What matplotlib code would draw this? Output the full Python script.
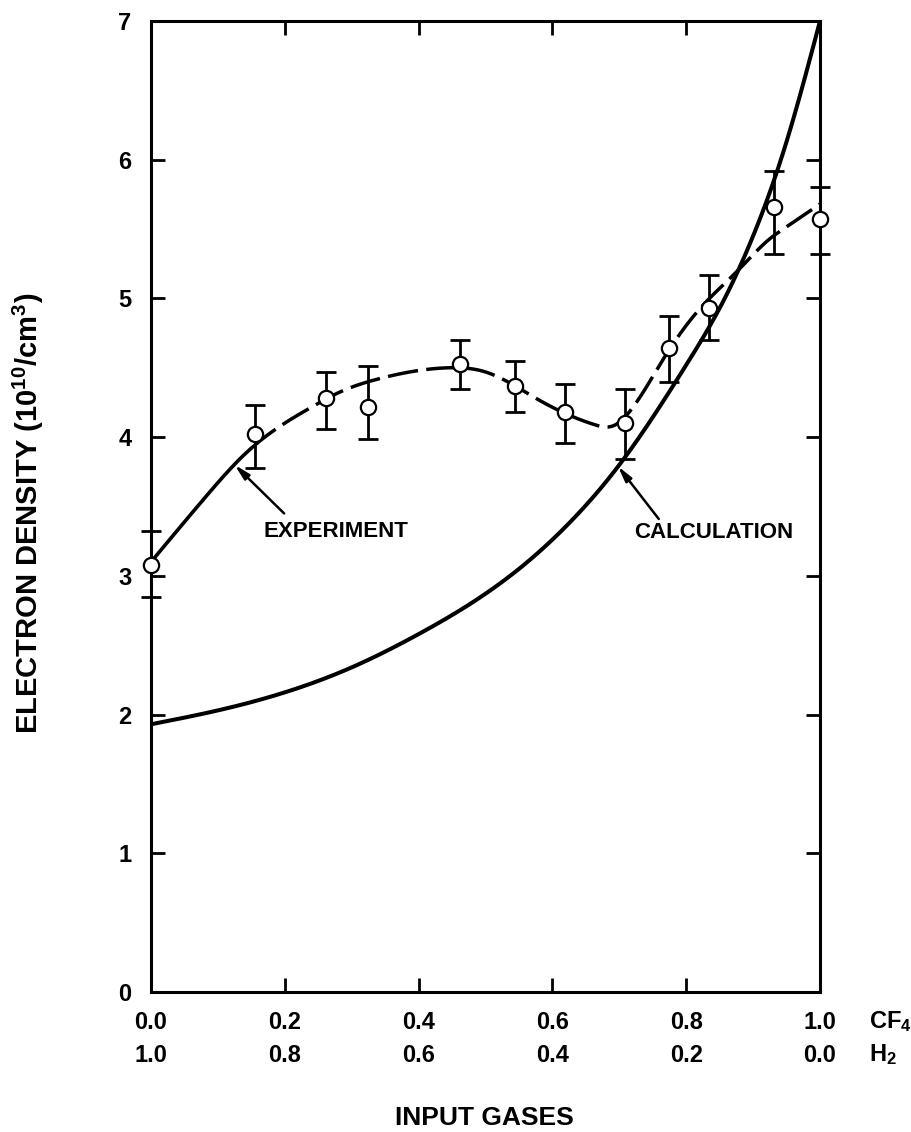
import numpy as np
import matplotlib
matplotlib.use("Agg")
import matplotlib.pyplot as plt

plt.rcParams['font.family'] = ['Liberation Sans', 'DejaVu Sans']
plt.rcParams['font.weight'] = 'bold'
plt.rcParams['mathtext.fontset'] = 'custom'
plt.rcParams['mathtext.rm'] = 'Liberation Sans:bold'
plt.rcParams['mathtext.default'] = 'rm'
plt.rcParams['lines.scale_dashes'] = False

# Measured electron density vs CF4 fraction (with error bars)
cf4_fraction = [0.0, 0.155, 0.262, 0.325, 0.462, 0.544, 0.619, 0.709, 0.775, 0.834, 0.931, 1.0]
density = [3.08, 4.02, 4.28, 4.22, 4.53, 4.37, 4.18, 4.10, 4.64, 4.93, 5.66, 5.57]
density_hi = [3.32, 4.23, 4.47, 4.51, 4.70, 4.55, 4.38, 4.35, 4.87, 5.17, 5.92, 5.80]
density_lo = [2.85, 3.78, 4.06, 3.99, 4.35, 4.18, 3.96, 3.84, 4.40, 4.70, 5.32, 5.32]

# Hand-drawn trend through the experimental points
trend_x = [0.0, 0.08, 0.143, 0.17, 0.245, 0.28, 0.34, 0.444, 0.50, 0.579,
           0.663, 0.69, 0.718, 0.768, 0.823, 0.877, 0.925, 0.945, 1.0]
trend_y = [3.10, 3.56, 3.89, 4.00, 4.23, 4.32, 4.42, 4.50, 4.47, 4.27,
           4.09, 4.08, 4.20, 4.58, 4.94, 5.20, 5.43, 5.50, 5.68]

# Calculated electron density
calc_x = [0.0, 0.1, 0.2, 0.3, 0.4, 0.55, 0.625, 0.7, 0.8, 0.85, 0.9, 0.95, 1.0]
calc_y = [1.93, 2.03, 2.16, 2.34, 2.58, 3.05, 3.38, 3.80, 4.52, 4.93, 5.45, 6.13, 7.0]

# Axis tick labels
cf4_ticks = [0.0, 0.2, 0.4, 0.6, 0.8, 1.0]
cf4_labels = ["0.0", "0.2", "0.4", "0.6", "0.8", "1.0"]
h2_labels = ["1.0", "0.8", "0.6", "0.4", "0.2", "0.0"]
y_ticks = [0, 1, 2, 3, 4, 5, 6, 7]


def natural_spline(x, y, n=600):
    x = np.asarray(x, float)
    y = np.asarray(y, float)
    h = np.diff(x)
    m = len(x)
    A = np.zeros((m, m))
    b = np.zeros(m)
    A[0, 0] = A[-1, -1] = 1.0
    for i in range(1, m - 1):
        A[i, i - 1] = h[i - 1]
        A[i, i] = 2 * (h[i - 1] + h[i])
        A[i, i + 1] = h[i]
        b[i] = 6 * ((y[i + 1] - y[i]) / h[i] - (y[i] - y[i - 1]) / h[i - 1])
    M = np.linalg.solve(A, b)
    t = np.linspace(x[0], x[-1], n)
    idx = np.clip(np.searchsorted(x, t) - 1, 0, m - 2)
    x0, x1 = x[idx], x[idx + 1]
    hh = x1 - x0
    s = (M[idx] * (x1 - t) ** 3 / (6 * hh) + M[idx + 1] * (t - x0) ** 3 / (6 * hh)
         + (y[idx] / hh - M[idx] * hh / 6) * (x1 - t)
         + (y[idx + 1] / hh - M[idx + 1] * hh / 6) * (t - x0))
    return t, s


fig = plt.figure(figsize=(9.12, 11.32), dpi=100)
ax = fig.add_axes([151 / 912, 1 - 992 / 1132, 669 / 912, 971 / 1132])
ax.set_xlim(0, 1.0)
ax.set_ylim(0, 7)

# calculation curve
cx, cy = natural_spline(calc_x, calc_y)
ax.plot(cx, cy, color='black', lw=2.9, solid_capstyle='butt', zorder=2, clip_on=False)

# experimental trend: solid near the start, dashed afterwards
tx, ty = natural_spline(trend_x, trend_y)
solid = tx <= 0.15
ax.plot(tx[solid], ty[solid], color='black', lw=2.6, zorder=2)
ax.plot(tx[~solid], ty[~solid], color='black', lw=2.5, zorder=2,
        linestyle=(0, (22, 6)), dash_capstyle='butt', clip_on=False)

# measured points with error bars
dens = np.array(density)
yerr = np.array([dens - np.array(density_lo), np.array(density_hi) - dens])
eb = ax.errorbar(cf4_fraction, density, yerr=yerr, fmt='none', ecolor='black',
                 elinewidth=2.0, capsize=7.2, capthick=2.0, zorder=3)
for art in list(eb.lines[1]) + list(eb.lines[2]):
    art.set_clip_on(False)
ax.plot(cf4_fraction, density, linestyle='none', marker='o', markersize=11,
        markerfacecolor='white', markeredgecolor='black', markeredgewidth=1.6,
        zorder=4, clip_on=False)

# annotations
ax.annotate('', xy=(0.125, 3.80), xytext=(0.199, 3.45),
            arrowprops=dict(arrowstyle='-|>,head_length=0.9,head_width=0.22',
                            color='black', lw=1.8, shrinkA=0, shrinkB=0))
ax.text(0.276, 3.32, 'EXPERIMENT', ha='center', va='center', fontsize=16)
ax.annotate('', xy=(0.698, 3.79), xytext=(0.759, 3.41),
            arrowprops=dict(arrowstyle='-|>,head_length=0.9,head_width=0.22',
                            color='black', lw=1.8, shrinkA=0, shrinkB=0))
ax.text(0.841, 3.31, 'CALCULATION', ha='center', va='center', fontsize=16)

# axes styling
for sp in ax.spines.values():
    sp.set_linewidth(2.2)
ax.set_xticks(cf4_ticks)
ax.set_xticklabels([])
ax.set_yticks(y_ticks)
ax.set_yticklabels([str(v) for v in y_ticks])
ax.tick_params(direction='in', length=10, width=2.0, top=True, right=True,
               labelsize=17, pad=14)

# two-row composition labels under the x axis
xt = ax.get_xaxis_transform()
for x, a, b in zip(cf4_ticks, cf4_labels, h2_labels):
    ax.text(x, -0.0309, a, transform=xt, ha='center', va='center', fontsize=17)
    ax.text(x, -0.0649, b, transform=xt, ha='center', va='center', fontsize=17)
ax.text(1.073, -0.0309, r'CF$_4$', transform=xt, ha='left', va='center', fontsize=17)
ax.text(1.073, -0.0649, r'H$_2$', transform=xt, ha='left', va='center', fontsize=17)

fig.text(28 / 912, 1 - 513 / 1132, r'ELECTRON DENSITY (10$^{10}$/cm$^{3}$)',
         rotation=90, ha='center', va='center', fontsize=21)
fig.text(484 / 912, 1 - 1118 / 1132, 'INPUT GASES', ha='center', va='center', fontsize=19)

fig.savefig('out.png', dpi=100)
